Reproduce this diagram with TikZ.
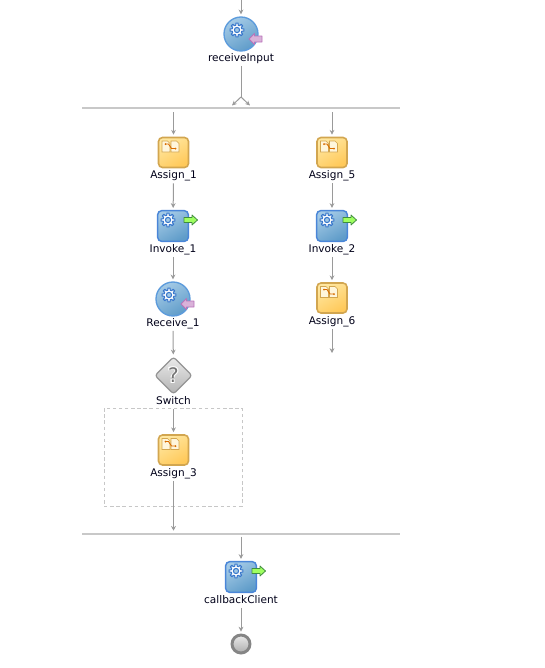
\documentclass[tikz,border=0pt]{standalone}
\usepackage{fontspec}
\setmainfont{DejaVu Sans}
\usetikzlibrary{arrows.meta,shapes.geometric,calc}
\definecolor{flowgray}{HTML}{9A9A9A}
\definecolor{barcol}{HTML}{C8C8C8}
\definecolor{gearblue}{HTML}{3A78CC}
\definecolor{assignedge}{HTML}{D2A650}
\definecolor{boxedge}{HTML}{4A86D8}
\definecolor{circedge}{HTML}{5C9BDC}
\definecolor{boxlight}{HTML}{A4CAE6}
\definecolor{boxdark}{HTML}{5F9CC9}
\definecolor{assignlight}{HTML}{FFE7A0}
\definecolor{assigndark}{HTML}{FFC95A}
\definecolor{pagecol}{HTML}{FFF6DC}
\tikzset{
  x=0.75pt,y=-0.75pt,
  lab/.style={font=\fontsize{7.9pt}{9pt}\selectfont,text=black!90!blue,inner sep=0pt,minimum height=11.5pt,text height=6.2pt,text depth=1.6pt},
  flow/.style={draw=flowgray,line width=0.75pt,-{Stealth[length=3.6pt,width=3.6pt]},shorten >=1.5pt},
  split/.style={draw=flowgray,line width=0.75pt,-{Stealth[length=3.6pt,width=3.4pt]}},
  bar/.style={fill=barcol,minimum width=238.5pt,minimum height=1.5pt,inner sep=0pt},
  assignbox/.style={draw=assignedge,line width=1.2pt,rounded corners=3pt,minimum size=22.5pt,inner sep=0pt,
     left color=assignlight,right color=assigndark,shading angle=30},
  invokebox/.style={draw=boxedge,line width=1.1pt,rounded corners=3pt,minimum size=23pt,inner sep=0pt,
     left color=boxlight,right color=boxdark,shading angle=30},
  recvcircle/.style={circle,draw=circedge,line width=1pt,minimum size=25.5pt,inner sep=0pt,
     left color=boxlight,right color=boxdark,shading angle=30},
  switchnode/.style={diamond,aspect=1,draw=black!42,line width=0.9pt,rounded corners=2pt,minimum size=28pt,inner sep=0pt,
     top color=black!8,bottom color=black!30},
  endnode/.style={circle,draw=black!48,line width=2.2pt,minimum size=13.5pt,inner sep=0pt,top color=black!8,bottom color=black!32},
  regionbox/.style={draw=black!22,dash pattern=on 2.6pt off 2pt,line width=0.6pt,minimum width=103.5pt,minimum height=73.5pt,inner sep=0pt},
}
\newcommand{\geargl}[2]{%
  \begin{scope}[shift={(#1,#2)}]
  \draw[gearblue,fill=white,line width=0.85pt,line join=round] (-14:5)
    \foreach \a in {0,45,...,315}{ -- (\a-14:5) -- (\a-9:7) -- (\a+9:7) -- (\a+14:5)} -- cycle;
  \draw[gearblue,line width=0.8pt,fill=boxlight] (0,0) circle[radius=2.6];
  \end{scope}
}
\newcommand{\outarrow}[2]{%
  \draw[draw=green!40!black!75!white,fill=green!50!white!75!yellow,line width=0.6pt,line join=round]
   (#1,#2-2.5) -- ++(8,0) -- ++(0,-2.5) -- ++(5.5,5) -- ++(-5.5,5) -- ++(0,-2.5) -- ++(-8,0) -- cycle;
}
\newcommand{\inarrow}[2]{%
  \draw[draw=violet!55!white,fill=violet!30!white,line width=0.6pt,line join=round]
   (#1,#2-3) -- ++(-7.5,0) -- ++(0,-2.5) -- ++(-5.5,5.5) -- ++(5.5,5.5) -- ++(0,-2.5) -- ++(7.5,0) -- cycle;
}
\newcommand{\docs}[2]{%
  \begin{scope}[shift={(#1,#2)}]
   \fill[pagecol,draw=assignedge,line width=0.5pt] (-8.5,-5.5) -- (-3,-5.5) -- (-0.5,-3) -- (-0.5,5.5) -- (-8.5,5.5) -- cycle;
   \fill[pagecol,draw=assignedge,line width=0.5pt] (0.5,-5.5) -- (6,-5.5) -- (8.5,-3) -- (8.5,5.5) -- (0.5,5.5) -- cycle;
   \draw[orange!85!black,line width=0.7pt] (-5,-2.5) -- (-2,-2.5) -- (1,2) -- (5,2);
   \fill[orange!85!black] (-5,-2.5) circle[radius=1] (5,2) circle[radius=1];
  \end{scope}
}
\newcommand{\assignat}[4]{%
  \node[assignbox] (#1) at (#2,#3) {};
  \docs{#2-3}{#3-6}
  \node[lab] (#1l) at (#2,#3+23) {#4};
}
\newcommand{\invokeat}[4]{%
  \node[invokebox] (#1) at (#2,#3) {};
  \geargl{#2-5}{#3-6}
  \outarrow{#2+11}{#3-6}
  \node[lab] (#1l) at (#2,#3+23) {#4};
}
\newcommand{\recvat}[4]{%
  \node[recvcircle] (#1) at (#2,#3) {};
  \geargl{#2-4}{#3-4}
  \inarrow{#2+21}{#3+5}
  \node[lab] (#1l) at (#2,#3+24) {#4};
}
\begin{document}
\begin{tikzpicture}
\useasboundingbox (0,0) rectangle (545,668);
\fill[white] (0,0) rectangle (545,668);
\coordinate (top) at (241,0);
\recvat{rcvIn}{241}{34}{receiveInput}
\node[bar] (bara) at (241,107.5) {};
\coordinate (fork) at (241,97);
\coordinate (forkl) at (232,105.5);
\coordinate (forkr) at (250,105.5);
\assignat{asgA}{173.5}{152.5}{Assign\_1}
\invokeat{invA}{173}{226}{Invoke\_1}
\recvat{rcvA}{173}{299}{Receive\_1}
\node[switchnode] (sw) at (173.5,375.5) {};
\node[font=\fontsize{17pt}{17pt}\bfseries\selectfont,text=white,inner sep=0pt] (qb) at (173.5,375) {?};
\node[font=\fontsize{15pt}{15pt}\selectfont,text=black!55,inner sep=0pt] (q) at (173.5,375) {?};
\node[lab] (swl) at (173.5,401.5) {Switch};
\node[regionbox] (reg) at (173,457) {};
\assignat{asgC}{173.5}{450}{Assign\_3}
\assignat{asgE}{332}{152.5}{Assign\_5}
\invokeat{invB}{332}{226}{Invoke\_2}
\assignat{asgF}{332}{298}{Assign\_6}
\coordinate (rightend) at (332,355);
\node[bar] (barb) at (241,534) {};
\invokeat{cb}{241}{577}{callbackClient}
\node[endnode] (fin) at (241,644) {};
\draw[flow] (top) -- (rcvIn);
\draw[draw=flowgray,line width=0.75pt] (rcvInl.south) -- (fork);
\draw[split] (fork) -- (forkl);
\draw[split] (fork) -- (forkr);
\draw[flow,shorten <=2.5pt] (bara.south -| asgA) -- (asgA);
\draw[flow,shorten <=2.5pt] (bara.south -| asgE) -- (asgE);
\draw[flow] (asgAl) -- (invA);
\draw[flow] (invAl) -- (rcvA);
\draw[flow] (rcvAl) -- (sw);
\draw[flow] (swl.south) -- (asgC);
\draw[flow] (asgCl) -- (barb.north -| asgCl);
\draw[flow] (asgEl) -- (invB);
\draw[flow] (invBl) -- (asgF);
\draw[flow] (asgFl) -- (rightend);
\draw[flow,shorten <=1pt] (barb.south -| cb) -- (cb);
\draw[flow] (cbl) -- (fin);
\end{tikzpicture}
\end{document}
